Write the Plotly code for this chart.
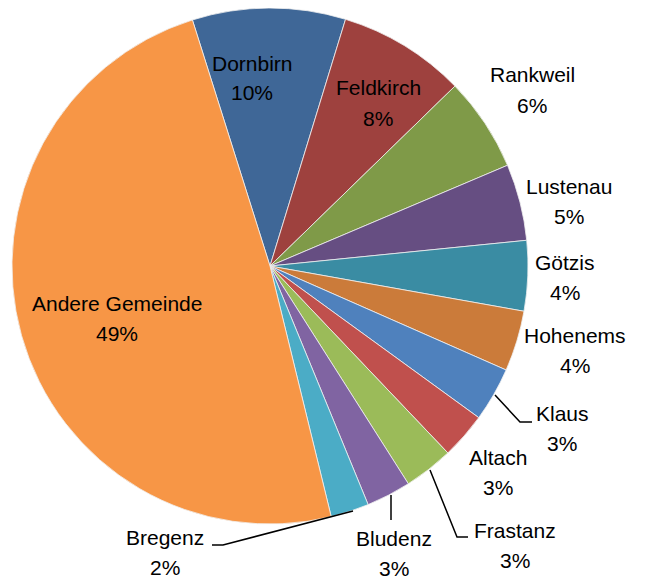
import plotly.graph_objects as go

# ---- data ----
gemeinden = ["Dornbirn", "Feldkirch", "Rankweil", "Lustenau", "Götzis", "Hohenems",
             "Klaus", "Altach", "Frastanz", "Bludenz", "Bregenz", "Andere Gemeinde"]
anteile = [9.6, 8.0, 5.9, 4.8, 4.4, 3.8, 3.4, 2.9, 3.1, 2.8, 2.4, 49.0]

# ---- styles ----
colors = ["#3F6797", "#9E413E", "#7F9A48", "#664E82", "#3A8CA3", "#CB7B3A",
          "#4F81BD", "#C0504D", "#9BBB59", "#8064A2", "#4BACC6", "#F79646"]

OFF = 8                      # browser body margin
W, H = 646 - OFF, 584 - OFF  # figure size fitting the window
CX, CY, R = 270, 266, 258    # screen pixels
FONT = "Liberation Sans, Arial, sans-serif"
LINE_GAP = 30

# label centres in screen pixels (layout only)
label_pos = {
    "Dornbirn": (252, 78), "Feldkirch": (378, 103), "Rankweil": (532, 90),
    "Lustenau": (569, 201), "Götzis": (565, 277), "Hohenems": (575, 350),
    "Klaus": (562, 428), "Altach": (498, 472), "Frastanz": (515, 545),
    "Bludenz": (394, 553), "Bregenz": (165, 552), "Andere Gemeinde": (117, 318),
}
leader_lines = [
    [(495, 395), (520, 422), (532, 422)],
    [(430, 470), (457, 537), (468, 537)],
    [(391, 495), (391, 520)],
    [(353, 511), (223, 545), (212, 545)],
]

def px(x):
    return (x - OFF) / W

def py(y):
    return 1 - (y - OFF) / H

total = sum(anteile)

fig = go.Figure(go.Pie(
    labels=gemeinden, values=anteile, sort=False, direction="clockwise",
    rotation=-17.5, textinfo="none", hoverinfo="label+percent",
    marker=dict(colors=colors, line=dict(color="#F0F0F0", width=0.8)),
    domain=dict(x=[px(CX - R), px(CX + R)], y=[py(CY + R), py(CY - R)]),
    showlegend=False,
))

for name, v in zip(gemeinden, anteile):
    x, y = label_pos[name]
    pct = round(v / total * 100)
    for txt, yy in ((name, y - LINE_GAP / 2), (f"{pct}%", y + LINE_GAP / 2)):
        fig.add_annotation(x=px(x), y=py(yy), xref="paper", yref="paper",
                           text=txt, showarrow=False,
                           font=dict(family=FONT, size=21, color="#000000"),
                           xanchor="center", yanchor="middle")

for pts in leader_lines:
    path = "M " + " L ".join(f"{px(a)},{py(b)}" for a, b in pts)
    fig.add_shape(type="path", path=path, xref="paper", yref="paper",
                  line=dict(color="#000000", width=1.5))

fig.update_layout(width=W, height=H, margin=dict(l=0, r=0, t=0, b=0),
                  paper_bgcolor="white", plot_bgcolor="white")

fig.write_html("out.html")
